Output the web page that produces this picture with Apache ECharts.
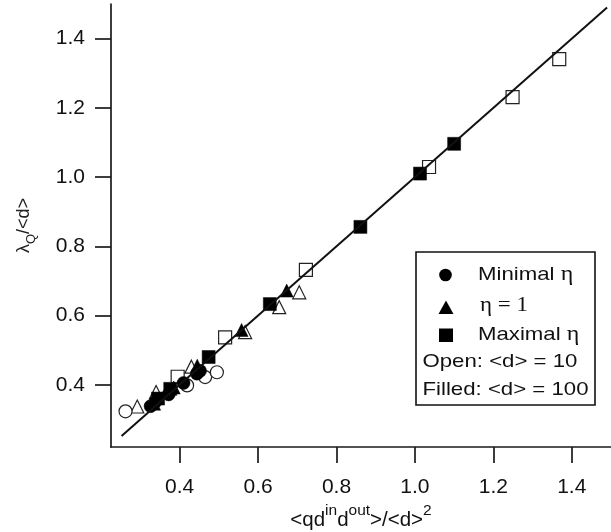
<!DOCTYPE html>
<html>
<head>
<meta charset="utf-8">
<script src="https://cdn.jsdelivr.net/npm/echarts@6/dist/echarts.min.js"></script>
<style>
html, body { margin: 0; padding: 0; background: #fff; }
#chart { width: 611px; height: 532px; }
</style>
</head>
<body>
<div id="chart"></div>
<script>
// tick positions shared by both axes
var tickValues = [0.4, 0.6, 0.8, 1.0, 1.2, 1.4];

// minimal eta (circles)
var minOpen = [[0.262, 0.323], [0.419, 0.398], [0.465, 0.422], [0.495, 0.436]];
var minFilled = [[0.326, 0.338], [0.338, 0.35], [0.372, 0.372], [0.41, 0.405], [0.444, 0.432], [0.452, 0.44]];
// eta = 1 (triangles)
var oneOpen = [[0.292, 0.337], [0.34, 0.379], [0.43, 0.452], [0.567, 0.552], [0.654, 0.624], [0.705, 0.667]];
var oneFilled = [[0.335, 0.345], [0.385, 0.392], [0.445, 0.455], [0.558, 0.558], [0.673, 0.672]];
// maximal eta (squares)
var maxOpen = [[0.395, 0.423], [0.516, 0.537], [0.722, 0.732], [1.036, 1.029], [1.249, 1.231], [1.368, 1.341]];
var maxFilled = [[0.345, 0.36], [0.376, 0.388], [0.474, 0.48], [0.63, 0.633], [0.861, 0.856], [1.013, 1.01], [1.1, 1.096]];

// fitted line y = x
var fitX = [0.252, 1.49];
var fitY = [0.252, 1.49];

var myChart = echarts.init(document.getElementById('chart'));

var sans = 'Liberation Sans';
var serif = 'Liberation Serif';

function axisBase(margin) {
    return {
        type: 'value',
        min: 0.225,
        max: 1.5,
        axisLine: { show: true, onZero: false, lineStyle: { color: '#1a1a1a', width: 1.7 } },
        axisTick: { show: true, inside: false, length: 16, customValues: tickValues, lineStyle: { color: '#1a1a1a', width: 1.7 } },
        axisLabel: {
            show: true,
            margin: margin,
            customValues: tickValues,
            color: '#111',
            fontFamily: sans,
            fontSize: 21,
            formatter: function (v) { return v.toFixed(1); }
        },
        splitLine: { show: false }
    };
}

var xAxis = axisBase(30);
xAxis.name = '{b|<qd}{s|in}{b|d}{s|out}{b|>/<d>}{s|2}';
xAxis.nameLocation = 'middle';
xAxis.nameGap = 40;
xAxis.nameTextStyle = {
    rich: {
        b: { fontFamily: sans, fontSize: 20.5, color: '#111', verticalAlign: 'bottom' },
        s: { fontFamily: sans, fontSize: 15.5, color: '#111', verticalAlign: 'bottom', padding: [0, 0, 12, 0] }
    }
};

var yAxis = axisBase(26);
yAxis.min = 0.22;
yAxis.name = '{b|λ}{s|Q}{b|/<d>}';
yAxis.nameLocation = 'middle';
yAxis.nameRotate = 90;
yAxis.nameGap = 73;
yAxis.nameTextStyle = {
    rich: {
        b: { fontFamily: sans, fontSize: 18, color: '#222', verticalAlign: 'bottom', padding: [0, 0, 5, 0] },
        s: { fontFamily: sans, fontSize: 13, color: '#222', verticalAlign: 'bottom' }
    }
};

var openStyle = { color: '#fff', borderColor: '#222', borderWidth: 1.2, opacity: 1 };
var filledStyle = { color: '#000', borderColor: '#000', borderWidth: 0.5, opacity: 1 };

function scatter(data, symbol, style) {
    return {
        type: 'scatter',
        data: data,
        symbol: symbol,
        symbolSize: 13,
        itemStyle: style,
        silent: true
    };
}

// legend drawn as a boxed note, like the original figure
var lx = 416, ly = 252;
var legendItems = [
    { type: 'rect', shape: { x: lx, y: ly, width: 179, height: 153 }, style: { fill: '#fff', stroke: '#111', lineWidth: 1.6 } },
    { type: 'circle', shape: { cx: 445.5, cy: 275, r: 6.3 }, style: { fill: '#000' } },
    { type: 'polygon', shape: { points: [[446, 300.5], [453.5, 314], [438.5, 314]] }, style: { fill: '#000' } },
    { type: 'rect', shape: { x: 439, y: 328.5, width: 14, height: 13.5 }, style: { fill: '#000' } },
    {
        type: 'text', x: 478, y: 275, scaleX: 1.2,
        style: { text: 'Minimal {e|η}', fontFamily: sans, fontSize: 18.5, fill: '#111', verticalAlign: 'middle',
            rich: { e: { fontFamily: serif, fontSize: 20, fill: '#111' } } }
    },
    {
        type: 'text', x: 480, y: 306, scaleX: 1.15,
        style: { text: 'η = 1', fontFamily: serif, fontSize: 20, fill: '#111', verticalAlign: 'middle' }
    },
    {
        type: 'text', x: 478, y: 335, scaleX: 1.2,
        style: { text: 'Maximal {e|η}', fontFamily: sans, fontSize: 18.5, fill: '#111', verticalAlign: 'middle',
            rich: { e: { fontFamily: serif, fontSize: 20, fill: '#111' } } }
    },
    {
        type: 'text', x: 422.5, y: 362, scaleX: 1.2,
        style: { text: 'Open: <d> = 10', fontFamily: sans, fontSize: 18.5, fill: '#111', verticalAlign: 'middle' }
    },
    {
        type: 'text', x: 422.5, y: 390, scaleX: 1.2,
        style: { text: 'Filled: <d> = 100', fontFamily: sans, fontSize: 18.5, fill: '#111', verticalAlign: 'middle' }
    }
];

var option = {
    animation: false,
    backgroundColor: '#fff',
    grid: { left: 111, right: 0, top: 4, bottom: 85, containLabel: false, outerBoundsMode: 'none' },
    xAxis: xAxis,
    yAxis: yAxis,
    series: [
        scatter(maxOpen, 'rect', openStyle),
        scatter(oneOpen, 'triangle', openStyle),
        scatter(minOpen, 'circle', openStyle),
        scatter(maxFilled, 'rect', filledStyle),
        scatter(oneFilled, 'triangle', filledStyle),
        scatter(minFilled, 'circle', filledStyle),
        {
            type: 'line',
            data: fitX.map(function (x, i) { return [x, fitY[i]]; }),
            symbol: 'none',
            lineStyle: { color: '#111', width: 2 },
            silent: true,
            z: 5
        }
    ],
    graphic: { elements: legendItems }
};

myChart.setOption(option);

window.onresize = function () {
    myChart.resize();
};
</script>
</body>
</html>
